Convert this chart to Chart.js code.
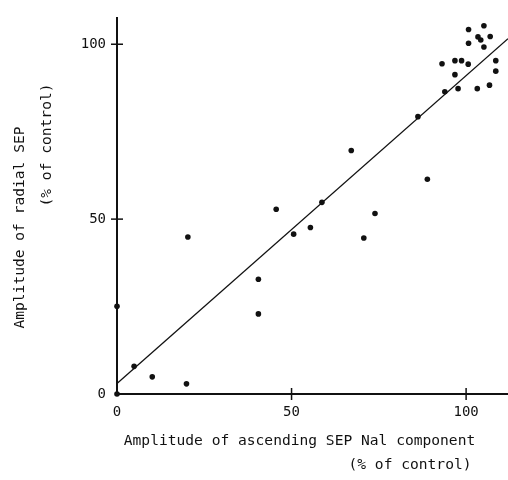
<!DOCTYPE html>
<html>
<head>
<meta charset="utf-8">
<script src="https://cdn.jsdelivr.net/npm/chart.js@4"></script>
<style>
  html, body { margin: 0; padding: 0; background: #fff; }
  #wrap { width: 508px; height: 480px; }
</style>
</head>
<body>
<div id="wrap"><canvas id="c" width="508" height="480"></canvas></div>
<script>
// Data
const pointX = [0, 0, 4.9, 10.1, 19.9, 20.3, 40.5, 40.5, 45.6, 50.6, 55.4, 58.7, 67.1, 70.7, 73.9, 88.9,
  86.2, 93.9, 93.1, 96.8, 98.7, 100.6, 96.8, 97.7, 100.7, 100.7, 105.1, 103.4, 104.2, 106.9, 105.1, 108.5, 108.5, 103.2, 106.7];
const pointY = [0, 25.1, 7.9, 4.9, 2.9, 44.9, 32.8, 22.9, 52.8, 45.7, 47.6, 54.8, 69.6, 44.6, 51.6, 61.4,
  79.3, 86.4, 94.4, 95.3, 95.3, 94.3, 91.3, 87.3, 104.2, 100.3, 105.3, 102.1, 101.2, 102.2, 99.2, 95.3, 92.3, 87.3, 88.3];
const lineX = [0, 112];
const lineY = [3, 101.6];
const xTicks = [0, 50, 100];
const yTicks = [0, 50, 100];
const xTitle = ["Amplitude of ascending SEP Nal component", "(% of control)"];
const yTitle = ["Amplitude of radial SEP", "(% of control)"];

const FONT = "DejaVu Sans Mono";
const INK = "#111";

const crossTicks = {
  id: 'crossTicks',
  afterDatasetsDraw(chart) {
    const ctx = chart.ctx;
    const xs = chart.scales.x, ys = chart.scales.y;
    const x0 = xs.getPixelForValue(0), y0 = ys.getPixelForValue(0);
    ctx.save();
    ctx.strokeStyle = INK;
    ctx.lineWidth = 1.5;
    xTicks.forEach(v => {
      if (v === 0) return;
      const px = xs.getPixelForValue(v);
      ctx.beginPath(); ctx.moveTo(px, y0 - 6); ctx.lineTo(px, y0 + 6); ctx.stroke();
    });
    yTicks.forEach(v => {
      if (v === 0) return;
      const py = ys.getPixelForValue(v);
      ctx.beginPath(); ctx.moveTo(x0 - 6, py); ctx.lineTo(x0 + 6, py); ctx.stroke();
    });
    ctx.restore();
  }
};

const titles = {
  id: 'titles',
  afterDraw(chart) {
    const ctx = chart.ctx;
    ctx.save();
    ctx.fillStyle = INK;
    ctx.font = "14.6px '" + FONT + "'";
    ctx.textAlign = 'center';
    ctx.textBaseline = 'middle';
    ctx.fillText(xTitle[0], 299.5, 441);
    ctx.fillText(xTitle[1], 410, 465);
    ctx.save();
    ctx.translate(20, 227.5);
    ctx.rotate(-Math.PI / 2);
    ctx.fillText(yTitle[0], 0, 0);
    ctx.restore();
    ctx.save();
    ctx.translate(47, 145);
    ctx.rotate(-Math.PI / 2);
    ctx.fillText(yTitle[1], 0, 0);
    ctx.restore();
    ctx.restore();
  }
};

new Chart(document.getElementById('c'), {
  type: 'scatter',
  data: {
    datasets: [
      {
        type: 'line',
        data: lineX.map((x, i) => ({ x, y: lineY[i] })),
        borderColor: INK,
        borderWidth: 1.3,
        pointRadius: 0,
        fill: false,
        clip: false
      },
      {
        data: pointX.map((x, i) => ({ x, y: pointY[i] })),
        backgroundColor: INK,
        borderColor: INK,
        borderWidth: 0,
        pointRadius: 2.8,
        clip: false
      }
    ]
  },
  options: {
    responsive: false,
    animation: false,
    devicePixelRatio: 1,
    layout: { autoPadding: false, padding: { top: 18, right: 0, left: 0, bottom: 0 } },
    plugins: { legend: { display: false }, tooltip: { enabled: false } },
    scales: {
      x: {
        type: 'linear',
        min: 0, max: 112,
        afterBuildTicks: s => { s.ticks = xTicks.map(v => ({ value: v })); },
        afterFit: s => { s.height = 86; s.paddingRight = 0; s.paddingLeft = 0; },
        grid: { display: false, drawTicks: false },
        border: { display: true, color: INK, width: 2 },
        ticks: { color: INK, padding: 10, font: { family: FONT, size: 14 }, maxRotation: 0 }
      },
      y: {
        type: 'linear',
        min: 0, max: 107.5,
        afterBuildTicks: s => { s.ticks = yTicks.map(v => ({ value: v })); },
        afterFit: s => { s.width = 117; s.paddingTop = 0; s.paddingBottom = 0; },
        grid: { display: false, drawTicks: false },
        border: { display: true, color: INK, width: 2 },
        ticks: { color: INK, padding: 11, font: { family: FONT, size: 14 } }
      }
    }
  },
  plugins: [crossTicks, titles]
});
</script>
</body>
</html>
